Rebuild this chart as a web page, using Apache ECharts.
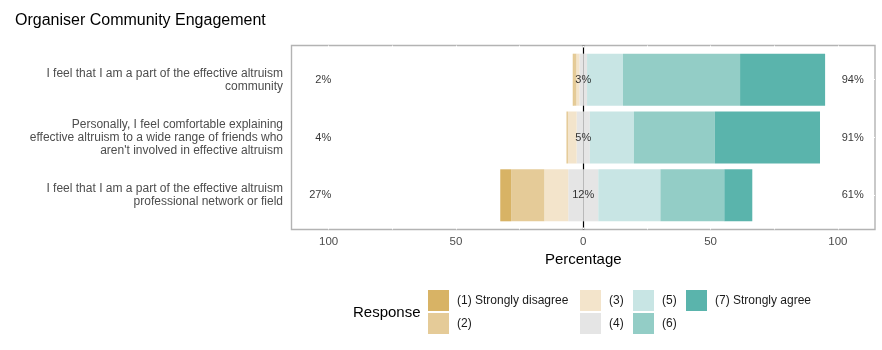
<!DOCTYPE html>
<html>
<head>
<meta charset="utf-8">
<script src="https://cdn.jsdelivr.net/npm/echarts@6/dist/echarts.min.js"></script>
<style>
html,body{margin:0;padding:0;background:#fff;}
#chart{width:882px;height:350px;}
</style>
</head>
<body>
<div id="chart"></div>
<script>
// ---- data ----
var categories = [
  'I feel that I am a part of the effective altruism\ncommunity',
  'Personally, I feel comfortable explaining\neffective altruism to a wide range of friends who\naren\'t involved in effective altruism',
  'I feel that I am a part of the effective altruism\nprofessional network or field'
];
var levelNames = ['(1) Strongly disagree', '(2)', '(3)', '(4)', '(5)', '(6)', '(7) Strongly agree'];
var r1 = [0.3, 0.0, 4.3];
var r2 = [1.1, 0.6, 13.0];
var r3 = [1.2, 3.4, 9.4];
var r4 = [3.0, 5.2, 11.8];
var r5 = [14.1, 17.3, 24.4];
var r6 = [46.0, 31.8, 25.1];
var r7 = [33.4, 41.3, 11.0];
var lowLabels = ['2%', '4%', '27%'];
var neutralLabels = ['3%', '5%', '12%'];
var highLabels = ['94%', '91%', '61%'];
var tickValues = [-100, -50, 0, 50, 100];
var gridValues = [-100, -75, -50, -25, 0, 25, 50, 75, 100];

// ---- styles ----
var colors = ['#D8B365', '#E5CB98', '#F3E4CB', '#E5E5E5', '#C8E5E4', '#93CDC6', '#5AB4AC'];
var XMAX = 114.6;
var FONT = '"Liberation Sans", Arial, sans-serif';

function neg(a){ return a.map(function(v){ return -v; }); }
function half(a, s){ return a.map(function(v){ return s * v / 2; }); }

function barSeries(name, data, color){
  return {
    type: 'bar', name: name, data: data, stack: 'likert',
    xAxisIndex: 1, yAxisIndex: 1, barWidth: '90%',
    itemStyle: { color: color }, silent: true, animation: false
  };
}
function textSeries(xval, labels, pos){
  return {
    type: 'scatter', xAxisIndex: 1, yAxisIndex: 1, symbolSize: 0, z: 5,
    animation: false, silent: true,
    data: labels.map(function(l, i){ return { value: [xval, i], name: l }; }),
    label: { show: true, position: pos, distance: 0, formatter: '{b}',
             color: '#000', fontSize: 11, fontFamily: FONT }
  };
}

var series = [
  barSeries('(4)', half(r4, -1), colors[3]),
  barSeries('(4)', half(r4, 1), colors[3]),
  barSeries('(3)', neg(r3), colors[2]),
  barSeries('(5)', r5, colors[4]),
  barSeries('(2)', neg(r2), colors[1]),
  barSeries('(6)', r6, colors[5]),
  barSeries('(1) Strongly disagree', neg(r1), colors[0]),
  barSeries('(7) Strongly agree', r7, colors[6]),
  textSeries(-99, lowLabels, 'left'),
  textSeries(0, neutralLabels, 'inside'),
  textSeries(101.5, highLabels, 'right')
];

function legendBlock(names, left){
  return {
    data: names.map(function(n){ return { name: n, icon: 'rect' }; }),
    orient: 'vertical', left: left, top: 290, padding: 0,
    itemWidth: 21, itemHeight: 21, itemGap: 2, selectedMode: false,
    textStyle: { fontSize: 12, color: '#1A1A1A', fontFamily: FONT, padding: [0, 0, 0, 3] }
  };
}

var whiteTick = { show: true, inside: true, length: 2, lineStyle: { color: '#fff', width: 1 } };

var option = {
  backgroundColor: '#fff',
  animation: false,
  textStyle: { fontFamily: FONT },
  color: colors,
  title: [
    { text: 'Organiser Community Engagement', left: 15, top: 13, padding: 0,
      textStyle: { fontSize: 16, fontWeight: 'normal', color: '#000', fontFamily: FONT } },
    { text: 'Response', left: 353, top: 305, padding: 0,
      textStyle: { fontSize: 15, fontWeight: 'normal', color: '#000', fontFamily: FONT } }
  ],
  legend: [
    legendBlock([levelNames[0], levelNames[1]], 428),
    legendBlock([levelNames[2], levelNames[3]], 580),
    legendBlock([levelNames[4], levelNames[5]], 633),
    legendBlock([levelNames[6]], 686)
  ],
  grid: [
    { left: 291.5, right: 7, top: 45.5, height: 184, show: true,
      borderColor: '#B3B3B3', borderWidth: 1.4, backgroundColor: '#fff' },
    { left: 291.5, right: 7, top: 50.8, height: 173.4 }
  ],
  xAxis: [
    { type: 'value', gridIndex: 0, min: -XMAX, max: XMAX,
      axisLine: { show: false, onZero: false },
      axisTick: Object.assign({ customValues: gridValues }, whiteTick),
      splitLine: { show: false },
      axisLabel: { customValues: tickValues, margin: 6, fontSize: 11.5, color: '#4D4D4D', fontFamily: FONT,
        formatter: function(v){ return String(Math.abs(Math.round(v))); } },
      name: 'Percentage', nameLocation: 'middle', nameGap: 22,
      nameTextStyle: { fontSize: 15, color: '#000', fontFamily: FONT } },
    { type: 'value', gridIndex: 1, min: -XMAX, max: XMAX, show: false },
    { type: 'value', gridIndex: 0, min: -XMAX, max: XMAX, position: 'top',
      axisLine: { show: false, onZero: false },
      axisTick: Object.assign({ customValues: gridValues }, whiteTick),
      axisLabel: { show: false }, splitLine: { show: false } }
  ],
  yAxis: [
    { type: 'value', gridIndex: 0, min: 0, max: 1,
      axisLine: { show: true, onZero: true, lineStyle: { color: '#000', width: 1.2 } },
      axisTick: { show: false }, axisLabel: { show: false }, splitLine: { show: false } },
    { type: 'category', gridIndex: 1, data: categories, inverse: true,
      axisLine: { show: false }, axisTick: Object.assign({ alignWithLabel: true }, whiteTick),
      axisLabel: { margin: 8.5, fontSize: 12, lineHeight: 13, padding: [9, 0, 0, 0],
        color: '#4D4D4D', align: 'right', fontFamily: FONT } },
    { type: 'category', gridIndex: 1, data: categories, inverse: true, position: 'right',
      axisLine: { show: false }, axisTick: Object.assign({ alignWithLabel: true }, whiteTick),
      axisLabel: { show: false } }
  ],
  series: series
};

var chart = echarts.init(document.getElementById('chart'), null, { renderer: 'canvas' });
chart.setOption(option);
</script>
</body>
</html>
